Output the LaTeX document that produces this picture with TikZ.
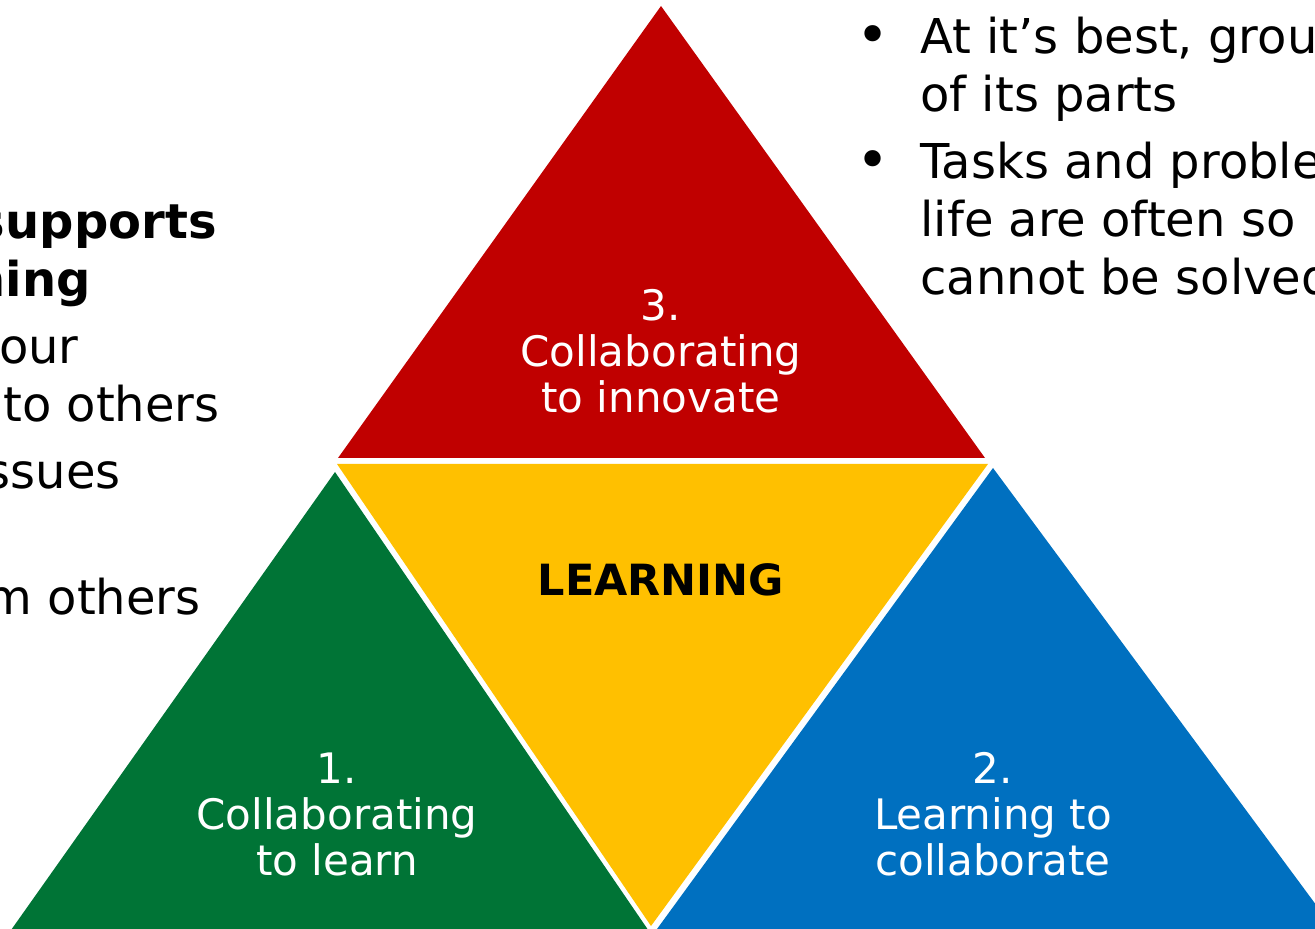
\documentclass[tikz,border=0pt]{standalone}
\usepackage{fontspec}
\setmainfont{DejaVu Sans}
\definecolor{innored}{RGB}{192,0,0}
\definecolor{learnyellow}{RGB}{255,192,0}
\definecolor{collabgreen}{RGB}{0,116,54}
\definecolor{collabblue}{RGB}{0,112,192}

\begin{document}
\begin{tikzpicture}[x=0.5pt, y=-0.5pt, every node/.style={inner sep=0pt},
    tri label/.style={text=white, align=center, font=\fontsize{21}{23}\selectfont},
    side text/.style={anchor=base east, font=\fontsize{24}{29}\selectfont},
    bullet text/.style={anchor=north west, align=left, font=\fontsize{24}{29}\selectfont}]
        \useasboundingbox (0,0) rectangle (1315,929);

        % triangles
        \fill[innored] (661,6) -- (985,458) -- (338,458) -- cycle;
        \fill[learnyellow] (337,464) -- (988,464) -- (651,926) -- cycle;
        \fill[collabgreen] (335,472) -- (655,940) -- (4,940) -- cycle;
        \fill[collabblue] (993,468) -- (1342,940) -- (649,940) -- cycle;

        \node[tri label] (innovate) at (661,351) {3.\\Collaborating\\to innovate};
        \node[tri label] (learn) at (337,814) {1.\\Collaborating\\to learn};
        \node[tri label] (collab) at (993,814) {2.\\Learning to\\collaborate};
        \node[anchor=base, font=\fontsize{21.5}{23}\selectfont\bfseries] (core) at (661,595) {LEARNING};

        % left column
        \node[side text, font=\fontsize{24}{29}\selectfont\bfseries] (supp) at (217,239) {supports};
        \node[side text, font=\fontsize{24}{29}\selectfont\bfseries] (ning) at (91,297) {ning};
        \node[side text] (our) at (79,364) {our};
        \node[side text] (toothers) at (220,422) {to others};
        \node[side text] (issues) at (121,489) {ssues};
        \node[side text] (fromothers) at (201,614) {m others};

        % right column
        \node[anchor=base, font=\fontsize{28}{29}\selectfont] (dot1) at (873,55) {•};
        \node[anchor=base, font=\fontsize{28}{29}\selectfont] (dot2) at (873,180) {•};
        \node[bullet text] (best) at (920,17) {At it’s best, grou\\of its parts};
        \node[bullet text] (tasks) at (920,142) {Tasks and proble\\life are often so\\cannot be solved};
    \end{tikzpicture}
\end{document}
